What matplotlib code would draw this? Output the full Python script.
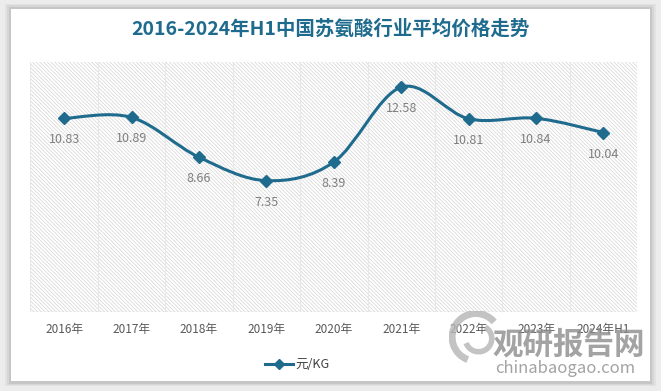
import matplotlib.pyplot as plt
import numpy as np
from matplotlib.path import Path
from matplotlib.patches import PathPatch, Rectangle, Arc

plt.rcParams['font.family'] = ['Noto Sans CJK SC', 'DejaVu Sans']
plt.rcParams['hatch.linewidth'] = 0.5

years = ["2016年", "2017年", "2018年", "2019年", "2020年", "2021年", "2022年", "2023年", "2024年H1"]
price = [10.83, 10.89, 8.66, 7.35, 8.39, 12.58, 10.81, 10.84, 10.04]

line_color = "#1f6b8e"

fig = plt.figure(figsize=(6.61, 3.91), dpi=100)
fig.patch.set_facecolor("#ececec")

# white card with soft shadow
for i, a in enumerate([0.04, 0.05, 0.07]):
    pad = (3 - i) * 0.003
    fig.patches.append(Rectangle((0.016 - pad, 0.022 - pad), 0.968 + 2 * pad, 0.958 + 2 * pad,
                                 transform=fig.transFigure, facecolor="black", alpha=a,
                                 edgecolor="none", zorder=-2))
fig.patches.append(Rectangle((0.016, 0.026), 0.968, 0.952, transform=fig.transFigure,
                             facecolor="white", edgecolor="none", zorder=-1))

fig.text(0.5, 0.925, "2016-2024年H1中国苏氨酸行业平均价格走势", ha="center", va="center",
         fontsize=14, fontweight="bold", color="#1f6b8e")

ax = fig.add_axes([0.046, 0.202, 0.918, 0.64])
ax.set_zorder(2)
ax.set_facecolor("none")
x = np.arange(len(years))
ax.set_xlim(-0.5, len(years) - 0.5)
ax.set_ylim(0, 14)

# hatched plot area
ax.add_patch(Rectangle((-0.5, 0), len(years), 14, facecolor="white", edgecolor="#d4d4d4",
                       hatch="\\" * 9, linewidth=0, zorder=0))
for b in np.arange(-0.5, len(years), 1):
    ax.axvline(b, color="#e8e8e8", linewidth=0.8, zorder=1)
ax.axhline(0, color="#d9d9d9", linewidth=1, zorder=1)

# smooth line via cubic bezier segments (Catmull-Rom style)
pts = np.column_stack([x, price])
verts = [tuple(pts[0])]
codes = [Path.MOVETO]
t = 1 / 6
for i in range(len(pts) - 1):
    p0 = pts[i - 1] if i > 0 else pts[i]
    p1 = pts[i]
    p2 = pts[i + 1]
    p3 = pts[i + 2] if i + 2 < len(pts) else pts[i + 1]
    c1 = p1 + (p2 - p0) * t
    c2 = p2 - (p3 - p1) * t
    verts += [tuple(c1), tuple(c2), tuple(p2)]
    codes += [Path.CURVE4] * 3
ax.add_patch(PathPatch(Path(verts, codes), facecolor="none", edgecolor=line_color,
                       linewidth=2.2, zorder=3))
ax.plot(x, price, linestyle="none", marker="D", markersize=6, color=line_color, zorder=4)

for xi, v in zip(x, price):
    ax.annotate(f"{v:.2f}", (xi, v), xytext=(0, -15.5), textcoords="offset points",
                ha="center", va="center", fontsize=9, color="#7f7f7f", zorder=5)

ax.set_xticks(x)
ax.set_xticklabels(years, fontsize=8.5, color="#595959")
ax.tick_params(axis="x", length=0, pad=8)
ax.set_yticks([])
for s in ax.spines.values():
    s.set_visible(False)

# legend
ax.plot([], [], color=line_color, marker="D", markersize=5, linewidth=2.2, label="元/KG")
ax.legend(loc="upper center", bbox_to_anchor=(0.44, -0.14), frameon=False, fontsize=9,
          handlelength=2.2, handletextpad=0.2, labelcolor="#404040")

# watermark
wm = fig.add_axes([0.68, 0.07, 0.08, 0.135])
wm.set_zorder(5)
wm.set_xlim(-1, 1)
wm.set_ylim(-1, 1)
wm.axis("off")
wm.add_patch(Arc((0, 0), 1.8, 1.8, theta1=40, theta2=250, color="#b5b5b5", linewidth=5, alpha=0.8))
wm.add_patch(Arc((0.1, -0.05), 1.0, 1.0, theta1=200, theta2=420, color="#b5b5b5", linewidth=4, alpha=0.8))
fig.text(0.86, 0.12, "观研报告网", ha="center", va="center", fontsize=22, fontweight="bold",
         color="#8c8c8c", alpha=0.8, zorder=10)
fig.text(0.855, 0.058, "chinabaogao.com", ha="center", va="center", fontsize=12,
         color="#8c8c8c", alpha=0.8, zorder=10)

fig.savefig("out.png", dpi=100)
